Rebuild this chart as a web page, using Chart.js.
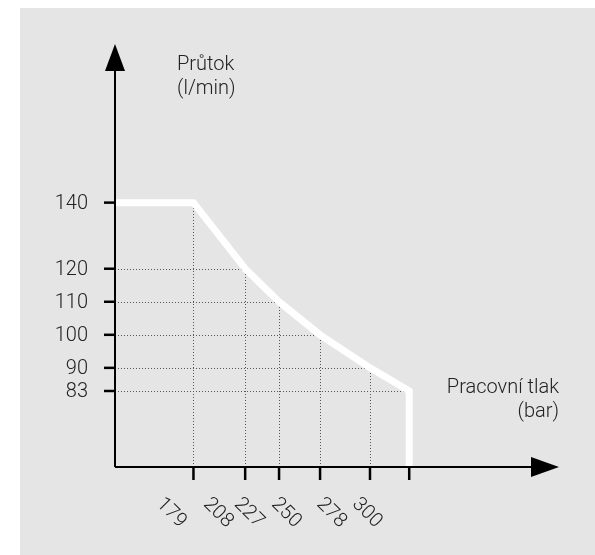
<!DOCTYPE html>
<html>
<head>
<meta charset="utf-8">
<script src="https://cdn.jsdelivr.net/npm/chart.js@4/dist/chart.umd.min.js"></script>
<style>
    html, body { margin: 0; padding: 0; background: #fff; }
    #wrap { position: absolute; left: 20px; top: 8px; width: 575px; height: 547px; background: #e5e5e5; }
    canvas { display: block; }
</style>
</head>
<body>
<div id="wrap"><canvas id="flowChart" width="575" height="547"></canvas></div>
<script>
// pracovní tlak (bar) vs. průtok (l/min)
const pressure = [179, 208, 227, 250, 278, 300];
const flow = [140, 120, 110, 100, 90, 83];
const pressureLabels = ['179', '208', '227', '250', '278', '300'];
const flowLabels = ['140', '120', '110', '100', '90', '83'];
const xTitle = ['Pracovní tlak', '(bar)'];
const yTitle = ['Průtok', '(l/min)'];

const xMin = 135, xMax = 384;
const yMin = 60, yMax = 188;

const FONT = '300 20px Roboto';
const TEXT = '#222';

// curve: flat from the axis, through the points, then down to the x axis
const curve = [{x: xMin, y: flow[0]}];
pressure.forEach((p, i) => curve.push({x: p, y: flow[i]}));
curve.push({x: pressure[pressure.length - 1], y: yMin});

const diagram = {
    id: 'diagram',
    beforeDatasetsDraw(chart) {
        const {ctx, chartArea, scales: {x, y}} = chart;
        ctx.save();
        ctx.lineWidth = 1;
        ctx.setLineDash([1, 2]);
        ctx.strokeStyle = '#555';
        pressure.forEach((p, i) => {
            const px = Math.round(x.getPixelForValue(p)) + 0.5;
            const py = Math.round(y.getPixelForValue(flow[i])) + 0.5;
            ctx.beginPath();
            ctx.moveTo(chartArea.left, py);
            ctx.lineTo(px, py);
            ctx.stroke();
            ctx.beginPath();
            ctx.moveTo(px, chartArea.bottom);
            ctx.lineTo(px, py);
            ctx.stroke();
        });
        ctx.restore();
    },
    afterDatasetsDraw(chart) {
        const {ctx, chartArea, scales: {x, y}} = chart;
        const left = chartArea.left, bottom = chartArea.bottom;
        ctx.save();
        ctx.setLineDash([]);
        ctx.strokeStyle = '#000';
        ctx.fillStyle = '#000';
        ctx.lineWidth = 2;

        // axes
        ctx.beginPath();
        ctx.moveTo(left, bottom);
        ctx.lineTo(left, chartArea.top + 20);
        ctx.moveTo(left, bottom);
        ctx.lineTo(chartArea.right - 20, bottom);
        ctx.stroke();

        // arrows
        ctx.beginPath();
        ctx.moveTo(left, chartArea.top);
        ctx.lineTo(left - 10, chartArea.top + 27);
        ctx.lineTo(left + 10, chartArea.top + 27);
        ctx.closePath();
        ctx.fill();
        ctx.beginPath();
        ctx.moveTo(chartArea.right, bottom);
        ctx.lineTo(chartArea.right - 28, bottom - 10);
        ctx.lineTo(chartArea.right - 28, bottom + 10);
        ctx.closePath();
        ctx.fill();

        // tick marks
        ctx.lineWidth = 2.5;
        flow.forEach(v => {
            const py = y.getPixelForValue(v);
            ctx.beginPath();
            ctx.moveTo(left - 11, py);
            ctx.lineTo(left, py);
            ctx.stroke();
        });
        pressure.forEach(p => {
            const px = x.getPixelForValue(p);
            ctx.beginPath();
            ctx.moveTo(px, bottom);
            ctx.lineTo(px, bottom + 13);
            ctx.stroke();
        });

        // tick labels
        ctx.font = FONT;
        ctx.fillStyle = TEXT;
        ctx.textAlign = 'right';
        ctx.textBaseline = 'middle';
        flow.forEach((v, i) => {
            ctx.fillText(flowLabels[i], left - 27, y.getPixelForValue(v) + 1);
        });
        ctx.textAlign = 'center';
        pressure.forEach((p, i) => {
            const px = x.getPixelForValue(p);
            const cx = left + (px - left) * 0.907 - 15;
            ctx.save();
            ctx.translate(cx, bottom + 46);
            ctx.rotate(Math.PI / 4);
            ctx.fillText(pressureLabels[i], 0, 0);
            ctx.restore();
        });

        // axis titles
        ctx.textBaseline = 'alphabetic';
        ctx.textAlign = 'left';
        ctx.fillText(yTitle[0], left + 62, chartArea.top + 26);
        ctx.fillText(yTitle[1], left + 62, chartArea.top + 50);
        ctx.textAlign = 'right';
        ctx.fillText(xTitle[0], chartArea.right, bottom - 74);
        ctx.fillText(xTitle[1], chartArea.right, bottom - 50);
        ctx.restore();
    }
};

new Chart(document.getElementById('flowChart').getContext('2d'), {
    type: 'line',
    data: {
        datasets: [{
            data: curve,
            borderColor: '#ffffff',
            borderWidth: 7,
            borderJoinStyle: 'miter',
            borderCapStyle: 'butt',
            pointRadius: 0,
            tension: 0,
            fill: false
        }]
    },
    options: {
        responsive: false,
        animation: false,
        devicePixelRatio: 1,
        layout: {
            padding: {left: 95, right: 36, top: 36, bottom: 88}
        },
        scales: {
            x: {type: 'linear', min: xMin, max: xMax, display: false},
            y: {type: 'linear', min: yMin, max: yMax, display: false}
        },
        plugins: {
            legend: {display: false},
            tooltip: {enabled: false}
        }
    },
    plugins: [diagram]
});
</script>
</body>
</html>
